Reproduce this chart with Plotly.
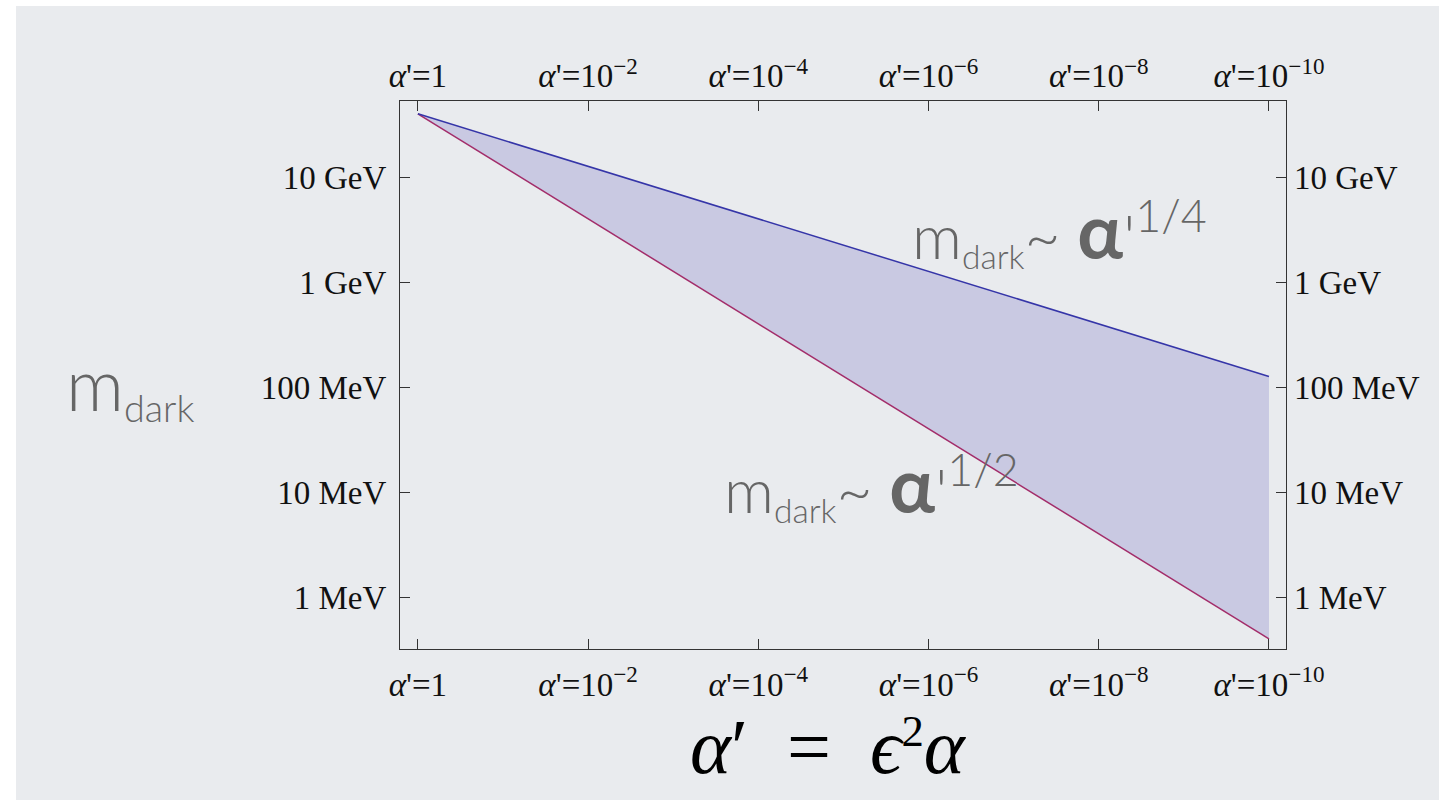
import plotly.graph_objects as go

# Coupling values (alpha') at the ends of the band
alpha_prime = [1, 1e-10]
# Dark-sector mass in MeV along each scaling law
m_quarter_mev = [40000, 126]   # m_dark ~ alpha'^(1/4)
m_half_mev = [40000, 0.4]      # m_dark ~ alpha'^(1/2)

x_tickvals = [1, 1e-2, 1e-4, 1e-6, 1e-8, 1e-10]
x_ticktext = ["<i>α</i>'=1", "<i>α</i>'=10<sup>−2</sup>", "<i>α</i>'=10<sup>−4</sup>",
              "<i>α</i>'=10<sup>−6</sup>", "<i>α</i>'=10<sup>−8</sup>", "<i>α</i>'=10<sup>−10</sup>"]
y_tickvals = [1, 10, 100, 1000, 10000]
y_ticktext = ["1 MeV", "10 MeV", "100 MeV", "1 GeV", "10 GeV"]

BG = "#e9ebee"
GRAY_TXT = "#666666"
SERIF = "Liberation Serif"

fig = go.Figure()
fig.add_trace(go.Scatter(x=alpha_prime, y=m_half_mev, mode="lines",
                         line=dict(color="#a32d6a", width=1.5), hoverinfo="skip"))
fig.add_trace(go.Scatter(x=alpha_prime, y=m_quarter_mev, mode="lines", fill="tonexty",
                         fillcolor="rgba(190,190,222,0.75)",
                         line=dict(color="#3535a8", width=1.5), hoverinfo="skip"))
# invisible copy that carries the top/right label axes
fig.add_trace(go.Scatter(x=alpha_prime, y=m_quarter_mev, mode="lines", xaxis="x2", yaxis="y2",
                         line=dict(width=0), opacity=0, hoverinfo="skip"))

xr = [0.21, -10.2]
yr = [-0.495, 4.724]
common_axis = dict(showgrid=False, zeroline=False, ticks="inside", ticklen=10,
                   tickcolor="#333", tickwidth=1.2,
                   tickfont=dict(family=SERIF, size=33, color="#111"))

fig.update_layout(
    width=1439, height=800,
    margin=dict(l=400, r=153, t=101, b=151),
    paper_bgcolor="white", plot_bgcolor=BG,
    showlegend=False,
    xaxis=dict(type="log", range=xr, tickvals=x_tickvals, ticktext=x_ticktext,
               showline=True, linecolor="#333", linewidth=1.3, mirror=True,
               side="bottom", ticklabelstandoff=6, **common_axis),
    xaxis2=dict(type="log", range=xr, tickvals=x_tickvals, ticktext=x_ticktext,
                overlaying="x", side="top", showline=False, anchor="y",
                ticklabelstandoff=6, **common_axis),
    yaxis=dict(type="log", range=yr, tickvals=y_tickvals, ticktext=y_ticktext,
               showline=True, linecolor="#333", linewidth=1.3, mirror=True,
               side="left", ticklabelstandoff=6, **common_axis),
    yaxis2=dict(type="log", range=yr, tickvals=y_tickvals, ticktext=y_ticktext,
                overlaying="y", side="right", showline=False, anchor="x",
                ticklabelstandoff=7, **common_axis),
)

# slide background with a thin white border at the top and left
pw, ph = 886.0, 548.0
fig.add_shape(type="rect", xref="paper", yref="paper", layer="below",
              x0=(16 - 400) / pw, x1=(1439 - 400) / pw,
              y0=(649 - 800) / ph, y1=(649 - 6) / ph,
              fillcolor=BG, line=dict(width=0))

sans = dict(family="Lato", size=62, color=GRAY_TXT, weight=300)
law_fmt = ("m<span style='font-size:48px'><sub>dark</sub></span>~ "
           "<span style='font-size:76px'><b>α</b></span>'<span style='font-size:64px'><sup>{}</sup></span>")

fig.add_annotation(xref="paper", yref="paper", x=(64 - 400) / pw, y=(649 - 385) / ph,
                   xanchor="left", yanchor="middle", showarrow=False,
                   text="m<span style='font-size:54px'><sub>dark</sub></span>",
                   font=dict(family="Lato", size=72, color=GRAY_TXT, weight=300))
fig.add_annotation(xref="paper", yref="paper", x=(910 - 400) / pw, y=(649 - 230) / ph,
                   xanchor="left", yanchor="middle", showarrow=False,
                   text=law_fmt.format("1/4"), font=sans)
fig.add_annotation(xref="paper", yref="paper", x=(722 - 400) / pw, y=(649 - 484) / ph,
                   xanchor="left", yanchor="middle", showarrow=False,
                   text=law_fmt.format("1/2"), font=sans)

fig.add_annotation(xref="paper", yref="paper", x=(688 - 400) / pw, y=(649 - 746) / ph,
                   xanchor="left", yanchor="middle", showarrow=False,
                   text="<i>α</i>′ &nbsp;=&nbsp; <i>ϵ</i><span style='font-size:64px'><sup>2</sup></span><i>α</i>",
                   font=dict(family=SERIF, size=78, color="#000"))

fig.write_html("out.html")
